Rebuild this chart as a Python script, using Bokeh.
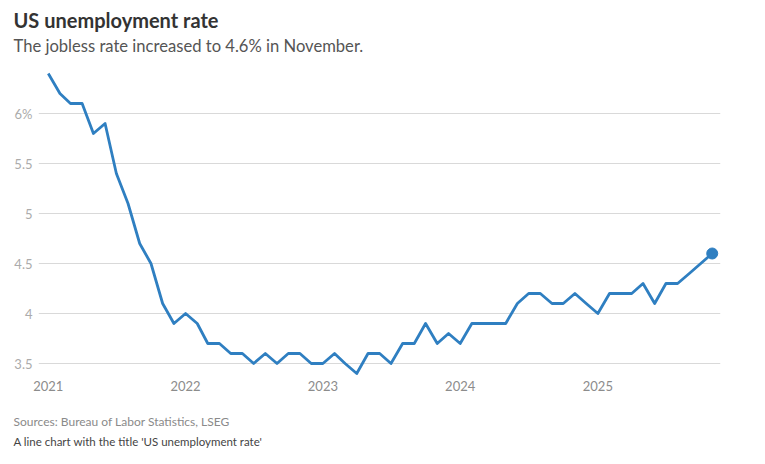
import pandas as pd
from datetime import datetime
from bokeh.plotting import figure
from bokeh.layouts import column
from bokeh.models import (Label, FixedTicker, CustomJSTickFormatter, Range1d,
                          ColumnDataSource)
from bokeh.embed import file_html
from bokeh.resources import INLINE

# ---- data (monthly US unemployment rate, %) ----
months = [
    "2021-01", "2021-02", "2021-03", "2021-04", "2021-05", "2021-06",
    "2021-07", "2021-08", "2021-09", "2021-10", "2021-11", "2021-12",
    "2022-01", "2022-02", "2022-03", "2022-04", "2022-05", "2022-06",
    "2022-07", "2022-08", "2022-09", "2022-10", "2022-11", "2022-12",
    "2023-01", "2023-02", "2023-03", "2023-04", "2023-05", "2023-06",
    "2023-07", "2023-08", "2023-09", "2023-10", "2023-11", "2023-12",
    "2024-01", "2024-02", "2024-03", "2024-04", "2024-05", "2024-06",
    "2024-07", "2024-08", "2024-09", "2024-10", "2024-11", "2024-12",
    "2025-01", "2025-02", "2025-03", "2025-04", "2025-05", "2025-06",
    "2025-07", "2025-08", "2025-09", "2025-11",
]
rates = [
    6.4, 6.2, 6.1, 6.1, 5.8, 5.9, 5.4, 5.1, 4.7, 4.5, 4.1, 3.9,
    4.0, 3.9, 3.7, 3.7, 3.6, 3.6, 3.5, 3.6, 3.5, 3.6, 3.6, 3.5,
    3.5, 3.6, 3.5, 3.4, 3.6, 3.6, 3.5, 3.7, 3.7, 3.9, 3.7, 3.8,
    3.7, 3.9, 3.9, 3.9, 3.9, 4.1, 4.2, 4.2, 4.1, 4.1, 4.2, 4.1,
    4.0, 4.2, 4.2, 4.2, 4.3, 4.1, 4.3, 4.3, 4.4, 4.6,
]
year_ticks = ["2021-01-01", "2022-01-01", "2023-01-01", "2024-01-01", "2025-01-01"]
y_ticks = [3.5, 4, 4.5, 5, 5.5, 6]

title_text = "US unemployment rate"
subtitle_text = "The jobless rate increased to 4.6% in November."
source_text = "Sources: Bureau of Labor Statistics, LSEG"
desc_text = "A line chart with the title 'US unemployment rate'"

FONT = "Lato"
BLUE = "#2f7fc1"
W = 760
TOP_H, CHART_H, FOOT_H = 68, 332, 60


def text_panel(height):
    f = figure(width=W, height=height, output_backend="svg",
               toolbar_location=None, x_axis_location=None,
               y_axis_location=None, x_range=Range1d(0, W),
               y_range=Range1d(0, height), min_border=0,
               min_border_left=0, min_border_right=0,
               min_border_top=0, min_border_bottom=0)
    f.outline_line_color = None
    f.xgrid.visible = False
    f.ygrid.visible = False
    return f


def add_text(f, text, x, y, size, color, style="normal"):
    f.add_layout(Label(x=x, y=y, text=text, text_font=FONT,
                       text_font_size=size, text_font_style=style,
                       text_color=color, text_baseline="alphabetic",
                       text_align="left"))


# ---- header ----
head = text_panel(TOP_H)
add_text(head, title_text, 13, 49, "20px", "#333333", "bold")
add_text(head, subtitle_text, 13, 23, "16.6px", "#555555")

# ---- chart ----
dates = pd.to_datetime(months, format="%Y-%m")
src = ColumnDataSource(dict(x=dates, y=rates))
last = ColumnDataSource(dict(x=dates[-1:], y=rates[-1:]))

p = figure(width=W, height=CHART_H, output_backend="svg", toolbar_location=None,
           x_axis_type="datetime",
           x_range=Range1d(datetime(2020, 12, 6), datetime(2025, 11, 23)),
           y_range=Range1d(3.38, 6.45),
           min_border_left=38, min_border_right=W - 720, min_border_top=0,
           min_border_bottom=CHART_H - 307)
p.outline_line_color = None
p.background_fill_color = "white"
p.border_fill_color = "white"

p.line("x", "y", source=src, line_color=BLUE, line_width=2.8,
       line_join="round")
p.scatter("x", "y", source=last, size=11, fill_color=BLUE, line_color=BLUE)

p.xgrid.visible = False
p.ygrid.grid_line_color = "#d9d9d9"
p.ygrid.grid_line_width = 1

p.yaxis.ticker = FixedTicker(ticks=y_ticks)
p.yaxis.formatter = CustomJSTickFormatter(
    code="return tick == 6 ? '6%' : tick.toString();")
p.xaxis.ticker = FixedTicker(
    ticks=[pd.Timestamp(t).value // 10**6 for t in year_ticks])
p.xaxis.formatter = CustomJSTickFormatter(
    code="return new Date(tick).getUTCFullYear().toString();")

for ax in (p.xaxis[0], p.yaxis[0]):
    ax.axis_line_color = None
    ax.major_tick_line_color = None
    ax.minor_tick_line_color = None
    ax.major_tick_out = 0
    ax.major_tick_in = 0
    ax.minor_tick_out = 0
    ax.major_label_text_font = FONT
    ax.major_label_text_font_size = "13px"
p.yaxis.major_label_text_color = "#ababab"
p.xaxis.major_label_text_color = "#8c8c8c"
p.yaxis.major_label_standoff = 6
p.xaxis.major_label_standoff = 5

# ---- footer ----
foot = text_panel(FOOT_H)
add_text(foot, source_text, 13, 39, "12px", "#8a8a8a")
add_text(foot, desc_text, 13, 19, "11.5px", "#444444")

# the chart sits in its own column so the text panels keep full-width frames
layout = column(head, column(p, spacing=0), foot, spacing=0)
open("out.html", "w").write(file_html(layout, INLINE))
